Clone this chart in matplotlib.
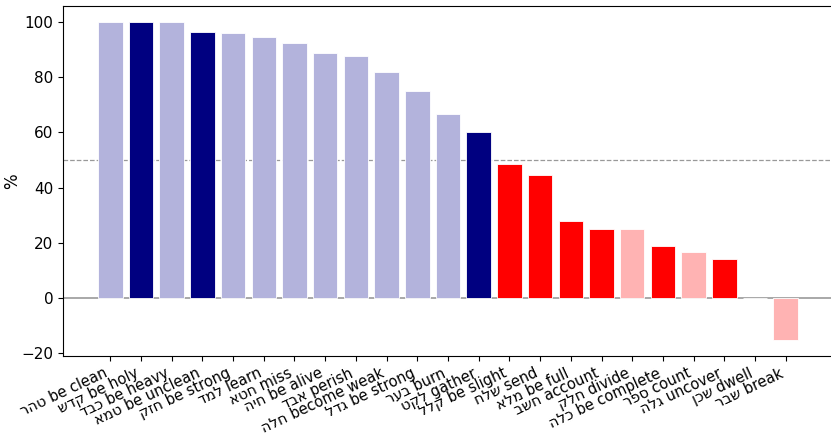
import matplotlib

matplotlib.use("Agg")
import matplotlib.pyplot as plt
import numpy as np

verbs = ["טהר", "קדש", "כבד", "טמא", "חזק", "למד", "חטא", "חיה", "אבד", "חלה",
         "גדל", "בער", "לקט", "קלל", "שלח", "מלא", "חשב", "חלק", "כלה", "ספר",
         "גלה", "שכן", "שבר"]
glosses = ["be clean", "be holy", "be heavy", "be unclean", "be strong", "learn",
           "miss", "be alive", "perish", "become weak", "be strong", "burn",
           "gather", "be slight", "send", "be full", "account", "divide",
           "be complete", "count", "uncover", "dwell", "break"]
pct = [100, 100, 100, 96.4, 96.1, 94.7, 92.3, 88.9, 87.5, 81.8, 75.0, 66.7,
       60.0, 48.5, 44.4, 27.8, 25.0, 25.0, 19.0, 16.7, 14.3, 0.0, -15.2]
# True = strong (dark) colour, False = faded
strong = [False, True, False, True, False, False, False, False, False, False,
          False, False, True, True, True, True, True, False, True, False,
          True, False, False]

# matplotlib lays glyphs out left to right, so reverse the Hebrew for display
labels = [f"{v[::-1]} {g}" for v, g in zip(verbs, glosses)]
colors = []
for p, s in zip(pct, strong):
    if p > 50:
        colors.append("#000080" if s else "#b3b3dc")
    else:
        colors.append("#ff0000" if s else "#ffb3b3")

fig = plt.figure(figsize=(8.31, 4.36), dpi=100)
ax = fig.add_axes([63 / 831, 80 / 436, 770 / 831, 350 / 436])
x = np.arange(len(pct))
ax.bar(x, pct, width=0.8, color=colors, edgecolor="white", linewidth=0.6)
ax.axhline(0, color="#999999", linewidth=1.2, zorder=0.5)
ax.axhline(50, color="#999999", linewidth=0.9, linestyle="--", zorder=0.5)
ax.set_xticks(x)
ax.set_xticklabels(labels, rotation=25, ha="right", fontsize=10.5)
ax.tick_params(axis="y", labelsize=11)
ax.set_ylabel("%", fontsize=12, labelpad=0)
fig.savefig("out.png", dpi=100)
